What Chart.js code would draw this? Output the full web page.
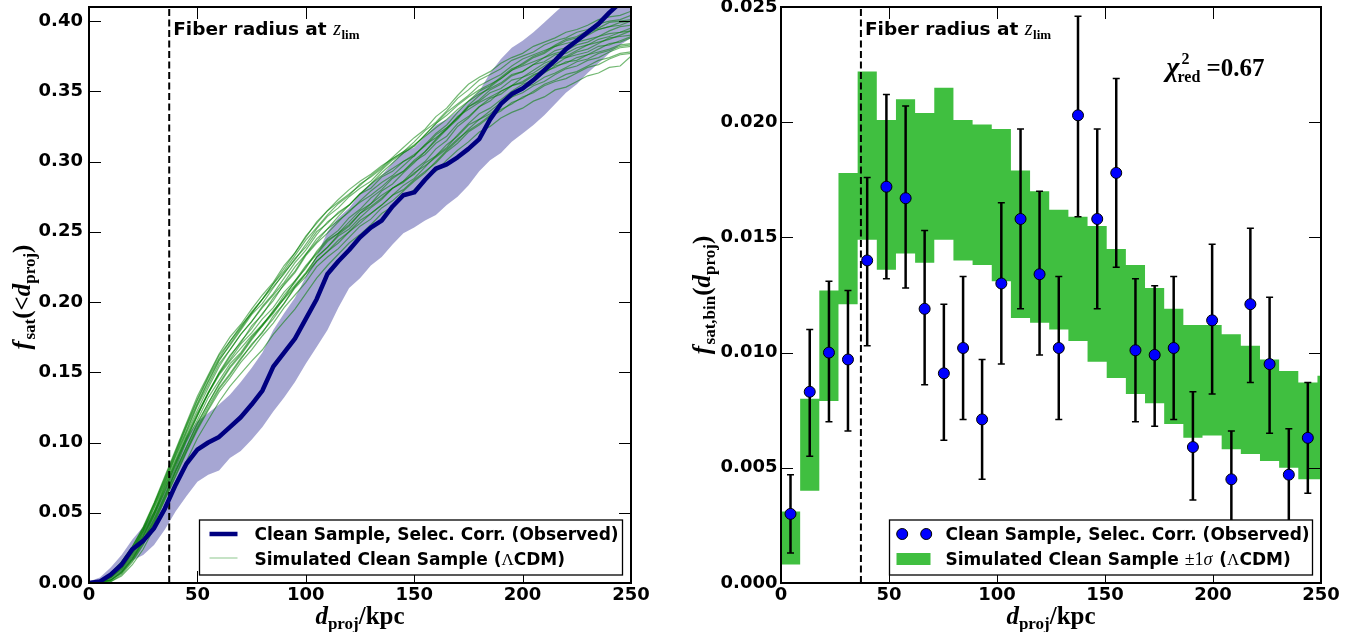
<!DOCTYPE html>
<html>
<head>
<meta charset="utf-8">
<script src="https://cdn.jsdelivr.net/npm/chart.js@4.4.0/dist/chart.umd.min.js"></script>
<style>
  html, body { margin: 0; padding: 0; background: #fff; overflow: hidden; }
  #page { position: relative; width: 1359px; height: 632px; }
  #cumBox { position: absolute; left: 0; top: 0; width: 680px; height: 632px; }
  #binBox { position: absolute; left: 680px; top: 0; width: 679px; height: 632px; }
</style>
</head>
<body>
<div id="page">
  <div id="cumBox"><canvas id="cumChart" width="680" height="632"></canvas></div>
  <div id="binBox"><canvas id="binChart" width="679" height="632"></canvas></div>
</div>
<script>
// ---------- cumulative satellite fraction f_sat(<d_proj) ----------
const dProj = [0,5,10,15,20,25,30,35,40,45,50,55,60,65,70,75,80,85,90,95,100,105,110,115,120,125,130,135,140,145,150,155,160,165,170,175,180,185,190,195,200,205,210,215,220,225,230,235,240,245,250];

const obsCum = [0,0.001,0.006,0.013,0.024,0.030,0.039,0.053,0.070,0.085,0.095,0.100,0.104,0.111,0.118,0.127,0.137,0.154,0.164,0.174,0.188,0.202,0.220,0.229,0.237,0.246,0.253,0.258,0.268,0.276,0.278,0.287,0.295,0.298,0.303,0.309,0.316,0.330,0.341,0.348,0.352,0.358,0.365,0.372,0.380,0.386,0.392,0.398,0.406,0.413,0.420];
const obsCumLow = [0,0,0.002,0.007,0.016,0.020,0.027,0.038,0.051,0.062,0.072,0.077,0.080,0.089,0.094,0.102,0.111,0.122,0.132,0.143,0.156,0.168,0.180,0.196,0.210,0.217,0.226,0.232,0.241,0.249,0.253,0.258,0.262,0.269,0.275,0.283,0.293,0.301,0.306,0.314,0.320,0.326,0.333,0.341,0.349,0.355,0.363,0.370,0.377,0.383,0.388];
const obsCumHigh = [0.001,0.004,0.011,0.020,0.031,0.040,0.051,0.066,0.087,0.104,0.115,0.121,0.127,0.134,0.143,0.153,0.164,0.180,0.192,0.203,0.218,0.233,0.250,0.260,0.267,0.277,0.284,0.290,0.299,0.307,0.310,0.318,0.326,0.330,0.336,0.343,0.350,0.363,0.373,0.381,0.386,0.392,0.399,0.406,0.413,0.419,0.425,0.431,0.438,0.444,0.450];

// simulated (LCDM) realisations of the clean sample
const simRun01 = [0,0.001,0.007,0.015,0.026,0.040,0.057,0.076,0.095,0.114,0.133,0.148,0.163,0.175,0.184,0.195,0.205,0.214,0.226,0.235,0.247,0.256,0.265,0.271,0.277,0.283,0.290,0.296,0.303,0.310,0.317,0.323,0.332,0.338,0.347,0.355,0.360,0.364,0.370,0.374,0.377,0.382,0.385,0.388,0.392,0.394,0.397,0.401,0.403,0.404,0.407];
const simRun02 = [0,0.001,0.006,0.014,0.024,0.038,0.055,0.073,0.092,0.111,0.128,0.144,0.159,0.169,0.180,0.191,0.199,0.210,0.221,0.230,0.241,0.252,0.261,0.267,0.275,0.281,0.286,0.294,0.301,0.306,0.311,0.319,0.327,0.335,0.341,0.347,0.354,0.358,0.362,0.368,0.373,0.376,0.379,0.382,0.386,0.388,0.392,0.394,0.396,0.399,0.400];
const simRun03 = [0,0.001,0.005,0.013,0.023,0.037,0.053,0.071,0.090,0.108,0.126,0.141,0.156,0.166,0.177,0.186,0.196,0.205,0.214,0.225,0.234,0.243,0.252,0.258,0.264,0.272,0.279,0.285,0.290,0.297,0.304,0.312,0.320,0.326,0.335,0.343,0.350,0.354,0.360,0.366,0.369,0.374,0.377,0.382,0.384,0.386,0.390,0.394,0.396,0.397,0.400];
const simRun04 = [0,0.001,0.005,0.012,0.022,0.036,0.051,0.070,0.088,0.107,0.123,0.139,0.154,0.166,0.177,0.186,0.197,0.206,0.217,0.228,0.237,0.248,0.257,0.263,0.269,0.277,0.284,0.290,0.295,0.300,0.305,0.311,0.319,0.324,0.331,0.339,0.343,0.349,0.352,0.358,0.360,0.365,0.370,0.373,0.375,0.379,0.383,0.385,0.387,0.390,0.393];
const simRun05 = [0,0.001,0.004,0.011,0.022,0.034,0.049,0.068,0.087,0.104,0.120,0.136,0.149,0.159,0.170,0.178,0.188,0.196,0.207,0.215,0.226,0.235,0.244,0.249,0.257,0.265,0.270,0.279,0.284,0.292,0.299,0.307,0.315,0.323,0.330,0.339,0.344,0.351,0.355,0.361,0.364,0.369,0.374,0.377,0.379,0.383,0.385,0.389,0.391,0.392,0.395];
const simRun06 = [0,0.001,0.004,0.010,0.021,0.033,0.050,0.067,0.084,0.103,0.119,0.135,0.150,0.162,0.171,0.183,0.191,0.203,0.212,0.221,0.233,0.242,0.249,0.257,0.265,0.271,0.276,0.282,0.289,0.293,0.300,0.305,0.313,0.318,0.327,0.332,0.339,0.345,0.348,0.354,0.356,0.361,0.366,0.369,0.374,0.376,0.378,0.382,0.383,0.386,0.389];
const simRun07 = [0,0.001,0.003,0.009,0.019,0.031,0.048,0.065,0.082,0.101,0.116,0.132,0.144,0.156,0.164,0.175,0.183,0.192,0.203,0.212,0.221,0.232,0.239,0.247,0.252,0.260,0.267,0.273,0.281,0.286,0.294,0.300,0.309,0.315,0.325,0.331,0.339,0.343,0.350,0.354,0.360,0.363,0.368,0.373,0.374,0.378,0.380,0.384,0.388,0.389,0.390];
const simRun08 = [0,0.001,0.002,0.008,0.018,0.030,0.046,0.063,0.080,0.097,0.114,0.128,0.142,0.154,0.163,0.174,0.184,0.193,0.205,0.214,0.225,0.234,0.243,0.249,0.255,0.263,0.270,0.276,0.281,0.286,0.291,0.299,0.304,0.312,0.318,0.326,0.330,0.336,0.342,0.346,0.352,0.355,0.360,0.363,0.367,0.371,0.373,0.377,0.379,0.382,0.383];
const simRun09 = [0,0.001,0.002,0.007,0.017,0.029,0.044,0.061,0.079,0.095,0.111,0.126,0.139,0.149,0.160,0.169,0.179,0.188,0.199,0.210,0.218,0.229,0.236,0.242,0.250,0.258,0.263,0.269,0.276,0.280,0.287,0.293,0.299,0.307,0.313,0.321,0.326,0.332,0.336,0.342,0.345,0.350,0.355,0.358,0.362,0.364,0.368,0.372,0.374,0.377,0.378];
const simRun10 = [0,0.001,0.001,0.006,0.015,0.027,0.042,0.059,0.076,0.093,0.109,0.123,0.136,0.146,0.157,0.166,0.176,0.185,0.196,0.205,0.214,0.225,0.232,0.238,0.246,0.254,0.259,0.267,0.272,0.279,0.286,0.292,0.300,0.308,0.315,0.323,0.330,0.334,0.340,0.346,0.349,0.354,0.357,0.362,0.366,0.368,0.372,0.374,0.378,0.381,0.382];
const simRun11 = [0,0.001,0.006,0.015,0.026,0.039,0.056,0.075,0.094,0.113,0.131,0.147,0.162,0.172,0.183,0.192,0.202,0.211,0.220,0.231,0.239,0.250,0.256,0.264,0.269,0.277,0.281,0.289,0.293,0.300,0.304,0.312,0.317,0.323,0.332,0.337,0.342,0.346,0.350,0.354,0.357,0.362,0.364,0.367,0.371,0.372,0.376,0.378,0.380,0.383,0.384];
const simRun12 = [0,0.001,0.001,0.005,0.013,0.024,0.039,0.055,0.072,0.087,0.103,0.116,0.129,0.140,0.149,0.158,0.166,0.177,0.186,0.195,0.206,0.217,0.226,0.234,0.242,0.248,0.255,0.263,0.268,0.275,0.280,0.288,0.293,0.301,0.308,0.314,0.321,0.325,0.331,0.335,0.338,0.343,0.346,0.351,0.353,0.357,0.361,0.363,0.367,0.368,0.375];
const simRun13 = [0,0.001,0.006,0.014,0.025,0.039,0.056,0.074,0.093,0.112,0.130,0.146,0.160,0.172,0.182,0.193,0.202,0.213,0.222,0.233,0.244,0.253,0.262,0.270,0.276,0.284,0.289,0.295,0.302,0.307,0.314,0.322,0.328,0.336,0.345,0.351,0.358,0.362,0.366,0.372,0.375,0.378,0.383,0.386,0.388,0.392,0.394,0.398,0.400,0.401,0.404];
const simRun14 = [0,0.001,0.004,0.010,0.020,0.033,0.048,0.066,0.085,0.102,0.119,0.135,0.149,0.161,0.172,0.181,0.192,0.201,0.213,0.222,0.234,0.245,0.252,0.261,0.269,0.277,0.284,0.292,0.299,0.306,0.311,0.319,0.327,0.333,0.340,0.346,0.351,0.355,0.359,0.365,0.368,0.371,0.374,0.379,0.381,0.385,0.387,0.389,0.393,0.396,0.397];
const simRun15 = [0,0.001,0.002,0.008,0.017,0.030,0.045,0.062,0.080,0.097,0.113,0.128,0.141,0.153,0.162,0.173,0.183,0.194,0.203,0.215,0.224,0.236,0.245,0.251,0.260,0.266,0.274,0.280,0.288,0.293,0.301,0.307,0.316,0.324,0.331,0.340,0.347,0.353,0.359,0.365,0.370,0.375,0.378,0.383,0.387,0.389,0.393,0.395,0.399,0.400,0.401];
const simRun16 = [0,0.001,0.004,0.012,0.022,0.035,0.050,0.069,0.086,0.105,0.121,0.135,0.148,0.158,0.167,0.176,0.184,0.193,0.202,0.211,0.220,0.229,0.236,0.244,0.250,0.256,0.263,0.269,0.276,0.283,0.288,0.296,0.304,0.310,0.319,0.327,0.334,0.338,0.344,0.350,0.355,0.358,0.363,0.368,0.370,0.374,0.376,0.380,0.384,0.385,0.388];
const simRun17 = [0,0.001,0.005,0.013,0.024,0.037,0.054,0.072,0.091,0.109,0.127,0.143,0.158,0.170,0.181,0.192,0.202,0.213,0.224,0.235,0.246,0.257,0.265,0.273,0.280,0.286,0.291,0.297,0.302,0.307,0.312,0.318,0.324,0.330,0.337,0.343,0.348,0.352,0.356,0.362,0.364,0.369,0.371,0.376,0.377,0.381,0.383,0.387,0.389,0.392,0.393];
const simRun18 = [0,0.001,0.002,0.007,0.016,0.028,0.043,0.060,0.077,0.094,0.110,0.124,0.138,0.148,0.159,0.170,0.178,0.190,0.199,0.211,0.220,0.232,0.239,0.248,0.254,0.263,0.268,0.274,0.281,0.285,0.292,0.297,0.303,0.309,0.316,0.322,0.327,0.333,0.337,0.341,0.346,0.349,0.354,0.357,0.359,0.363,0.367,0.369,0.373,0.376,0.377];
const simRuns = [simRun01, simRun02, simRun03, simRun04, simRun05, simRun06, simRun07, simRun08, simRun09,
                 simRun10, simRun11, simRun12, simRun13, simRun14, simRun15, simRun16, simRun17, simRun18];

const cumTickValuesX = [0, 50, 100, 150, 200, 250];
const cumTickLabelsX = ['0', '50', '100', '150', '200', '250'];
const cumTickValuesY = [0, 0.05, 0.10, 0.15, 0.20, 0.25, 0.30, 0.35, 0.40];
const cumTickLabelsY = ['0.00', '0.05', '0.10', '0.15', '0.20', '0.25', '0.30', '0.35', '0.40'];

// fibre radius at the limiting redshift (kpc)
const fiberRadius = 37;

// ---------- binned satellite fraction f_sat,bin(d_proj) ----------
const binCenters = [4.4,13.3,22.2,31.0,39.9,48.8,57.7,66.5,75.4,84.3,93.1,102.0,110.9,119.7,128.6,137.5,146.4,155.2,164.1,173.0,181.8,190.7,199.6,208.5,217.3,226.2,235.1,243.9];
const binFrac    = [0.0030,0.0083,0.0100,0.0097,0.0140,0.0172,0.0167,0.0119,0.0091,0.0102,0.0071,0.0130,0.0158,0.0134,0.0102,0.0203,0.0158,0.0178,0.0101,0.0099,0.0102,0.0059,0.0114,0.0045,0.0121,0.0095,0.0047,0.0063];
const binErrLow  = [0.0013,0.0055,0.0070,0.0066,0.0103,0.0132,0.0128,0.0086,0.0062,0.0071,0.0045,0.0095,0.0119,0.0099,0.0071,0.0159,0.0119,0.0137,0.0070,0.0068,0.0071,0.0036,0.0082,0.0025,0.0087,0.0065,0.0026,0.0039];
const binErrHigh = [0.0047,0.0110,0.0131,0.0127,0.0176,0.0212,0.0207,0.0153,0.0121,0.0133,0.0097,0.0165,0.0197,0.0170,0.0133,0.0246,0.0197,0.0219,0.0132,0.0129,0.0133,0.0083,0.0147,0.0066,0.0154,0.0124,0.0067,0.0087];

const binEdges = [0,8.87,17.74,26.61,35.48,44.35,53.22,62.09,70.96,79.83,88.70,97.57,106.44,115.31,124.18,133.05,141.92,150.79,159.66,168.53,177.40,186.27,195.14,204.01,212.88,221.75,230.62,239.49,248.36,257.23];
const simBinLow  = [0.0008,0.0040,0.0079,0.0121,0.0149,0.0136,0.0143,0.0139,0.0149,0.0140,0.0138,0.0131,0.0115,0.0113,0.0110,0.0105,0.0096,0.0089,0.0082,0.0078,0.0069,0.0063,0.0064,0.0058,0.0056,0.0053,0.0050,0.0045,0.0045];
const simBinHigh = [0.0031,0.0080,0.0127,0.0178,0.0222,0.0201,0.0210,0.0204,0.0215,0.0201,0.0199,0.0197,0.0179,0.0170,0.0162,0.0159,0.0155,0.0145,0.0138,0.0128,0.0119,0.0112,0.0112,0.0108,0.0103,0.0097,0.0092,0.0087,0.0090];

const binTickValuesY = [0, 0.005, 0.010, 0.015, 0.020, 0.025];
const binTickLabelsY = ['0.000', '0.005', '0.010', '0.015', '0.020', '0.025'];

const chiRedValue = '0.67';
const chiRedPos = [178.5, 0.0220];

// ---------- styling ----------
const SANS = '"DejaVu Sans", "Liberation Sans", sans-serif';
const SERIF = '"Liberation Serif", "DejaVu Serif", serif';
const NAVY = '#000080';
const BAND = 'rgba(0,0,128,0.35)';
const SIM_LINE = 'rgba(0,128,0,0.55)';
const SIM_FILL = '#40bf40';
const OBS_POINT = '#0000ff';

// draws a sequence of differently styled text pieces on one baseline
function drawRuns(ctx, x, y, runs, align) {
  const widths = runs.map(r => { ctx.font = r.font; return ctx.measureText(r.t).width + (r.kern || 0); });
  const total = widths.reduce((a, b) => a + b, 0);
  let cx = align === 'center' ? x - total / 2 : (align === 'right' ? x - total : x);
  ctx.textAlign = 'left';
  ctx.textBaseline = 'alphabetic';
  runs.forEach((r, i) => {
    ctx.font = r.font;
    ctx.fillStyle = r.color || '#000';
    ctx.fillText(r.t, cx, y + (r.dy || 0));
    cx += widths[i];
  });
  return total;
}

function axisX(values, labels) {
  return {
    type: 'linear', min: 0, max: 250,
    grid: { display: false, drawTicks: false },
    border: { display: false },
    afterBuildTicks: s => { s.ticks = values.map(v => ({ value: v })); },
    afterFit: s => { s.height = 49; s.paddingLeft = 0; s.paddingRight = 0; },
    ticks: {
      autoSkip: false, maxRotation: 0, padding: 2, color: '#000',
      font: { family: SANS, size: 18, weight: 'bold' },
      callback: (v, i) => labels[i]
    }
  };
}

function axisY(max, values, labels, width, pad) {
  return {
    type: 'linear', min: 0, max: max,
    grid: { display: false, drawTicks: false },
    border: { display: false },
    afterBuildTicks: s => { s.ticks = values.map(v => ({ value: v })); },
    afterFit: s => { s.width = width; s.paddingTop = 0; s.paddingBottom = 0; },
    ticks: {
      autoSkip: false, padding: pad, color: '#000',
      font: { family: SANS, size: 18, weight: 'bold' },
      callback: (v, i) => labels[i]
    }
  };
}

// inward ticks on all four sides and the axes frame
const frameTicks = {
  id: 'frameTicks',
  afterDatasetsDraw(chart) {
    const { ctx, chartArea: a, scales: { x, y } } = chart;
    const L = 12;
    ctx.save();
    ctx.strokeStyle = '#000';
    ctx.lineWidth = 1;
    ctx.beginPath();
    x.ticks.forEach(t => {
      const px = Math.round(x.getPixelForValue(t.value)) + 0.5;
      ctx.moveTo(px, a.bottom); ctx.lineTo(px, a.bottom - L);
      ctx.moveTo(px, a.top); ctx.lineTo(px, a.top + L);
    });
    y.ticks.forEach(t => {
      const py = Math.round(y.getPixelForValue(t.value)) + 0.5;
      ctx.moveTo(a.left, py); ctx.lineTo(a.left + L, py);
      ctx.moveTo(a.right, py); ctx.lineTo(a.right - L, py);
    });
    ctx.stroke();
    ctx.lineWidth = 2;
    ctx.strokeRect(a.left, a.top, a.right - a.left, a.bottom - a.top);
    ctx.restore();
  }
};

// vertical error bars with caps under the observed points
const errorBars = {
  id: 'errorBars',
  beforeDatasetDraw(chart, args) {
    const ds = chart.data.datasets[args.index];
    if (ds.label !== 'observed' || !ds.errLow) return;
    const { ctx, scales: { x, y } } = chart;
    ctx.save();
    ctx.strokeStyle = '#000';
    ds.data.forEach((p, i) => {
      const px = x.getPixelForValue(p.x);
      const yLo = y.getPixelForValue(ds.errLow[i]);
      const yHi = y.getPixelForValue(ds.errHigh[i]);
      ctx.lineWidth = 2.5;
      ctx.beginPath(); ctx.moveTo(px, yLo); ctx.lineTo(px, yHi); ctx.stroke();
      ctx.lineWidth = 1.5;
      ctx.beginPath();
      ctx.moveTo(px - 3.5, yLo); ctx.lineTo(px + 3.5, yLo);
      ctx.moveTo(px - 3.5, yHi); ctx.lineTo(px + 3.5, yHi);
      ctx.stroke();
    });
    ctx.restore();
  }
};

function fiberNote(ctx, x, y) {
  drawRuns(ctx, x, y, [
    { t: 'Fiber radius at ', font: `bold 18.5px ${SANS}` },
    { t: 'z', font: `italic 20px ${SERIF}`, kern: 0.5 },
    { t: 'lim', font: `bold 13px ${SERIF}`, dy: 4 }
  ], 'left');
}

function xTitle(ctx, cx, y) {
  drawRuns(ctx, cx, y, [
    { t: 'd', font: `italic bold 25px ${SERIF}` },
    { t: 'proj', font: `bold 17px ${SERIF}`, dy: 5 },
    { t: '/kpc', font: `bold 25px ${SERIF}` }
  ], 'center');
}

function yTitle(ctx, bx, cy, sub) {
  ctx.save();
  ctx.translate(bx, cy);
  ctx.rotate(-Math.PI / 2);
  drawRuns(ctx, 0, 0, [
    { t: 'f', font: `italic bold 25px ${SERIF}`, kern: 1.5 },
    { t: sub, font: `bold 17px ${SERIF}`, dy: 5 },
    { t: sub === 'sat' ? '(<' : '(', font: `bold 25px ${SERIF}` },
    { t: 'd', font: `italic bold 25px ${SERIF}` },
    { t: 'proj', font: `bold 17px ${SERIF}`, dy: 5 },
    { t: ')', font: `bold 25px ${SERIF}` }
  ], 'center');
  ctx.restore();
}

function legendFrame(ctx, a) {
  const w = 423, h = 55;
  const x0 = a.right - 8.5 - w, y0 = a.bottom - 8 - h;
  ctx.fillStyle = '#fff';
  ctx.fillRect(x0, y0, w, h);
  ctx.strokeStyle = '#000';
  ctx.lineWidth = 1.3;
  ctx.strokeRect(x0, y0, w, h);
  return { x0, y0 };
}

const cumDecor = {
  id: 'cumDecor',
  afterDraw(chart) {
    const { ctx, chartArea: a, scales: { x } } = chart;
    ctx.save();
    fiberNote(ctx, x.getPixelForValue(fiberRadius) + 4, a.top + 28);
    xTitle(ctx, (a.left + a.right) / 2, 624);
    yTitle(ctx, 30, 297, 'sat');
    const { x0, y0 } = legendFrame(ctx, a);
    // observed line sample
    ctx.strokeStyle = NAVY; ctx.lineWidth = 4.5;
    ctx.beginPath(); ctx.moveTo(x0 + 10, y0 + 14); ctx.lineTo(x0 + 38, y0 + 14); ctx.stroke();
    // simulated line sample
    ctx.strokeStyle = 'rgba(0,128,0,0.3)'; ctx.lineWidth = 1.5;
    ctx.beginPath(); ctx.moveTo(x0 + 10, y0 + 38); ctx.lineTo(x0 + 38, y0 + 38); ctx.stroke();
    drawRuns(ctx, x0 + 55, y0 + 20, [{ t: 'Clean Sample, Selec. Corr. (Observed)', font: `bold 17px ${SANS}` }], 'left');
    drawRuns(ctx, x0 + 55, y0 + 44.5, [
      { t: 'Simulated Clean Sample (', font: `bold 17px ${SANS}` },
      { t: 'Λ', font: `17px ${SERIF}` },
      { t: 'CDM)', font: `bold 17px ${SANS}` }
    ], 'left');
    ctx.restore();
  }
};

const binDecor = {
  id: 'binDecor',
  afterDraw(chart) {
    const { ctx, chartArea: a, scales: { x, y } } = chart;
    ctx.save();
    fiberNote(ctx, x.getPixelForValue(fiberRadius) + 4, a.top + 28);
    xTitle(ctx, (a.left + a.right) / 2, 624);
    yTitle(ctx, 30, 295, 'sat,bin');
    // reduced chi-square of the comparison
    const cx = x.getPixelForValue(chiRedPos[0]);
    const cy = y.getPixelForValue(chiRedPos[1]);
    ctx.textAlign = 'left'; ctx.textBaseline = 'alphabetic'; ctx.fillStyle = '#000';
    ctx.font = `italic bold 28px ${SERIF}`;
    ctx.fillText('χ', cx, cy);
    ctx.font = `bold 16px ${SERIF}`;
    ctx.fillText('2', cx + 15, cy - 12);
    ctx.fillText('red', cx + 11, cy + 6);
    ctx.font = `bold 25px ${SERIF}`;
    ctx.fillText('=' + chiRedValue, cx + 40, cy);
    // legend
    const { x0, y0 } = legendFrame(ctx, a);
    ctx.fillStyle = OBS_POINT; ctx.strokeStyle = '#000'; ctx.lineWidth = 1;
    [x0 + 12.7, x0 + 36.7].forEach(px => {
      ctx.beginPath(); ctx.arc(px, y0 + 14, 5.5, 0, Math.PI * 2); ctx.fill(); ctx.stroke();
    });
    ctx.fillStyle = SIM_FILL;
    ctx.fillRect(x0 + 7, y0 + 33, 34, 12);
    drawRuns(ctx, x0 + 56, y0 + 20, [{ t: 'Clean Sample, Selec. Corr. (Observed)', font: `bold 17px ${SANS}` }], 'left');
    drawRuns(ctx, x0 + 56, y0 + 44.5, [
      { t: 'Simulated Clean Sample ', font: `bold 17px ${SANS}` },
      { t: '±1', font: `18px ${SERIF}` },
      { t: 'σ', font: `italic 18px ${SERIF}`, kern: 1 },
      { t: ' (', font: `bold 17px ${SANS}` },
      { t: 'Λ', font: `17px ${SERIF}` },
      { t: 'CDM)', font: `bold 17px ${SANS}` }
    ], 'left');
    ctx.restore();
  }
};

const common = {
  responsive: false,
  animation: false,
  devicePixelRatio: 1,
  plugins: { legend: { display: false }, tooltip: { enabled: false } },
  elements: { point: { radius: 0 } }
};

// ---------- left panel ----------
new Chart(document.getElementById('cumChart'), {
  type: 'line',
  data: {
    datasets: [
      { label: 'band-low', data: dProj.map((d, i) => ({ x: d, y: obsCumLow[i] })),
        borderColor: 'transparent', borderWidth: 0, pointRadius: 0, fill: false, order: 5 },
      { label: 'band-high', data: dProj.map((d, i) => ({ x: d, y: obsCumHigh[i] })),
        borderColor: 'transparent', borderWidth: 0, pointRadius: 0, fill: '-1', backgroundColor: BAND, order: 5 },
      ...simRuns.map((run, k) => ({
        label: 'sim' + (k + 1), data: dProj.map((d, i) => ({ x: d, y: run[i] })),
        borderColor: SIM_LINE, borderWidth: 1.2, pointRadius: 0, fill: false, order: 3
      })),
      { label: 'fiber', data: [{ x: fiberRadius, y: 0 }, { x: fiberRadius, y: 0.41 }],
        borderColor: '#000', borderWidth: 2, borderDash: [7, 3.5], pointRadius: 0, fill: false, order: 2 },
      { label: 'observed', data: dProj.map((d, i) => ({ x: d, y: obsCum[i] })),
        borderColor: NAVY, borderWidth: 4.5, pointRadius: 0, fill: false, order: 0, clip: 0,
        borderJoinStyle: 'round' }
    ]
  },
  options: Object.assign({}, common, {
    layout: { padding: { top: 7, right: 49, left: 0, bottom: 0 } },
    scales: {
      x: axisX(cumTickValuesX, cumTickLabelsX),
      y: axisY(0.41, cumTickValuesY, cumTickLabelsY, 89, 6)
    }
  }),
  plugins: [frameTicks, cumDecor]
});

// ---------- right panel ----------
const stepValue = (arr, i) => arr[Math.min(i, arr.length - 1)];
new Chart(document.getElementById('binChart'), {
  type: 'line',
  data: {
    datasets: [
      { label: 'sim-low', data: binEdges.map((e, i) => ({ x: e, y: stepValue(simBinLow, i) })),
        stepped: 'before', borderColor: 'transparent', borderWidth: 0, pointRadius: 0, fill: false, order: 5 },
      { label: 'sim-high', data: binEdges.map((e, i) => ({ x: e, y: stepValue(simBinHigh, i) })),
        stepped: 'before', borderColor: 'transparent', borderWidth: 0, pointRadius: 0,
        fill: '-1', backgroundColor: SIM_FILL, order: 5 },
      { label: 'fiber', data: [{ x: fiberRadius, y: 0 }, { x: fiberRadius, y: 0.025 }],
        borderColor: '#000', borderWidth: 2, borderDash: [7, 3.5], pointRadius: 0, fill: false, order: 2 },
      { label: 'observed', data: binCenters.map((c, i) => ({ x: c, y: binFrac[i] })),
        errLow: binErrLow, errHigh: binErrHigh,
        showLine: false, pointRadius: 5.5, pointBackgroundColor: OBS_POINT,
        pointBorderColor: '#000', pointBorderWidth: 1, order: 0 }
    ]
  },
  options: Object.assign({}, common, {
    layout: { padding: { top: 7, right: 38, left: 0, bottom: 0 } },
    scales: {
      x: axisX(cumTickValuesX, cumTickLabelsX),
      y: axisY(0.025, binTickValuesY, binTickLabelsY, 101, 3.5)
    }
  }),
  plugins: [frameTicks, errorBars, binDecor]
});
</script>
</body>
</html>
